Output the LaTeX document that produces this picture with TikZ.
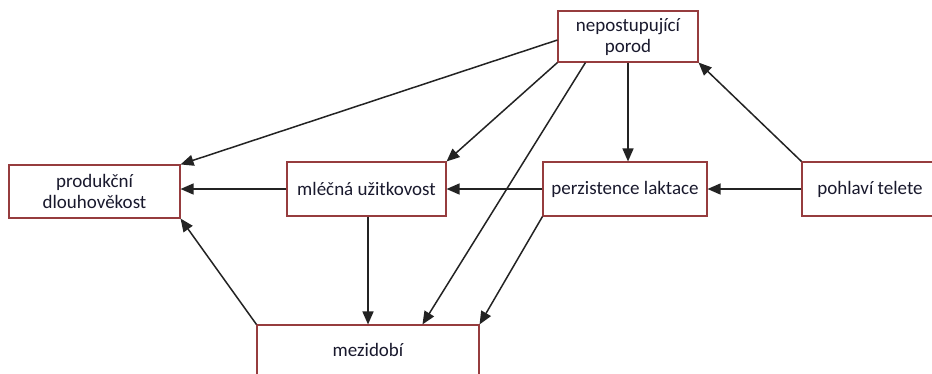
\documentclass[tikz,border=0pt]{standalone}
\usepackage{fontspec}
\setmainfont{Carlito}
\usetikzlibrary{arrows.meta}
\definecolor{boxred}{RGB}{150,60,62}
\definecolor{inkline}{RGB}{35,35,35}
\definecolor{txt}{RGB}{25,25,45}
\begin{document}
\begin{tikzpicture}[x=1pt,y=-1pt,
  factor/.style={draw=boxred, line width=1.1pt, fill=white, inner sep=0pt,
    align=center, text=txt, font=\fontsize{19}{21}\selectfont},
  link/.style={draw=inkline, line width=1.5pt,
    -{Triangle[length=13pt,width=11pt]}}]
\useasboundingbox (0,0) rectangle (932,373);
\clip (0,0) rectangle (932,373);
\fill[white] (0,0) rectangle (932,373);

% factors
\node[factor, minimum width=140pt, minimum height=51pt] (nep) at (628,36.5) {nepostupující\\porod};
\node[factor, minimum width=171pt, minimum height=53pt] (prod) at (94.5,191.5) {produkční\\dlouhověkost};
\node[factor, minimum width=159pt, minimum height=54pt] (mle) at (366.5,189) {mléčná užitkovost};
\node[factor, minimum width=164pt, minimum height=54pt] (per) at (625,189) {perzistence laktace};
\node[factor, minimum width=136pt, minimum height=54pt] (poh) at (870,189) {pohlaví telete};
\node[factor, minimum width=222pt, minimum height=50pt] (mez) at (368,350) {mezidobí};

% influences
\draw[link] ([yshift=-3.5pt]nep.west) -- (prod.north east);
\draw[link] (nep.south west) -- (mle.north east);
\draw[link] ([xshift=28pt]nep.south west) -- ([xshift=166pt]mez.north west);
\draw[link] (nep.south) -- (nep.south |- per.north);
\draw[link] (poh.north west) -- (nep.south east);
\draw[link] (poh.west) -- (per.east);
\draw[link] (per.west) -- (mle.east);
\draw[link] (mle.west) -- (mle.west -| prod.east);
\draw[link] ([xshift=1.5pt]mle.south) -- ([xshift=1.5pt]mle.south |- mez.north);
\draw[link] (per.south west) -- (mez.north east);
\draw[link] (mez.north west) -- (prod.south east);
\end{tikzpicture}
\end{document}
